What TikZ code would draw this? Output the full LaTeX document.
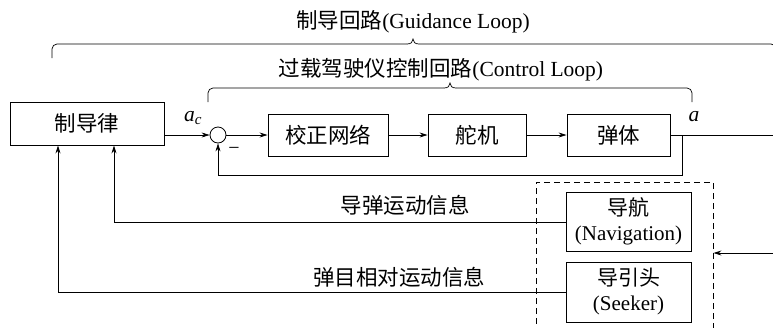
\documentclass[tikz,border=0pt]{standalone}
\usepackage{fontspec}
\setmainfont{Liberation Serif}
\newfontfamily\cjk{Noto Sans CJK SC}
\usetikzlibrary{arrows.meta}
\begin{document}
\begin{tikzpicture}[x=1pt,y=-1pt,
  every node/.style={font=\fontsize{21.5}{24}\selectfont},
  blk/.style={draw,line width=0.9pt,minimum height=42pt,inner sep=0pt},
  ln/.style={line width=0.75pt},
  arr/.style={ln,-{Stealth[length=8pt,width=5pt]}},
  brc/.style={line width=0.7pt,rounded corners=5pt}]
\useasboundingbox (0,0) rectangle (773,327);
% blocks
\node[blk,minimum width=154pt,minimum height=43pt] (gl) at (87,123.5) {\cjk 制导律};
\node[draw,line width=0.8pt,circle,minimum size=16pt,inner sep=0pt] (sum) at (218,135) {};
\node[blk,minimum width=120pt] (jz) at (328,135) {\cjk 校正网络};
\node[blk,minimum width=98pt] (dj) at (477,135) {\cjk 舵机};
\node[blk,minimum width=103pt] (dt) at (618.5,135) {\cjk 弹体};
\node[draw,dash pattern=on 6pt off 4pt,line width=0.9pt,minimum width=177pt,minimum height=160pt,inner sep=0pt] (db) at (624.5,262) {};
\node[draw,line width=0.9pt,minimum width=125pt,minimum height=59pt,inner sep=0pt,align=center,font=\fontsize{21}{25}\selectfont] (nav) at (628.5,221.5) {\cjk 导航\\(Navigation)};
\node[draw,line width=0.9pt,minimum width=125pt,minimum height=60pt,inner sep=0pt,align=center,font=\fontsize{21}{25}\selectfont] (sk) at (628.5,292) {\cjk 导引头\\(Seeker)};
% coordinates
\coordinate (tap) at (682,135);
\coordinate (out) at (773,135);
\coordinate (in) at (773,253);
\coordinate (fb1) at (682,175);
\coordinate (fb2) at (218,175);
\coordinate (n1) at (114,222);
\coordinate (s1) at (58,292);
% forward path
\draw[arr] (gl.east |- sum.west) -- (sum.west);
\draw[arr] (sum.east) -- (jz.west);
\draw[arr] (jz.east) -- (dj.west);
\draw[arr] (dj.east) -- (dt.west);
\draw[ln] (dt.east) -- (out);
\draw[arr] (tap) -- (fb1) -- (fb2) -- (sum.south);
\draw[arr] (in) -- (db.east |- in);
\draw[arr] (nav.west |- n1) -- (n1) -- (n1 |- gl.south);
\draw[arr] (sk.west |- s1) -- (s1) -- (s1 |- gl.south);
% labels
\node (ac) at (193,118) {\textit{a}\textsubscript{\textit{c}}};
\node (a) at (694,117) {\textit{a}};
\node (minus) at (234,151) {\fontsize{20}{20}\selectfont −};
\node (l1) at (405,205) {\cjk 导弹运动信息};
\node (l2) at (399,277) {\cjk 弹目相对运动信息};
\node (t1) at (413,22) {{\cjk 制导回路}(Guidance Loop)};
\node (t2) at (441,70) {{\cjk 过载驾驶仪控制回路}(Control Loop)};
% braces
\draw[brc] (52,58) -- (52,44) -- (407,44);
\draw[line width=0.7pt] (407,44) .. controls (411,44) and (413,42) .. (413,39) .. controls (413,42) and (415,44) .. (419,44);
\draw[brc] (419,44) -- (776,44) -- (776,58);
\draw[brc] (208,102) -- (208,88) -- (444,88);
\draw[line width=0.7pt] (444,88) .. controls (448,88) and (450,86) .. (450,83) .. controls (450,86) and (452,88) .. (456,88);
\draw[brc] (456,88) -- (692,88) -- (692,102);
\end{tikzpicture}
\end{document}
